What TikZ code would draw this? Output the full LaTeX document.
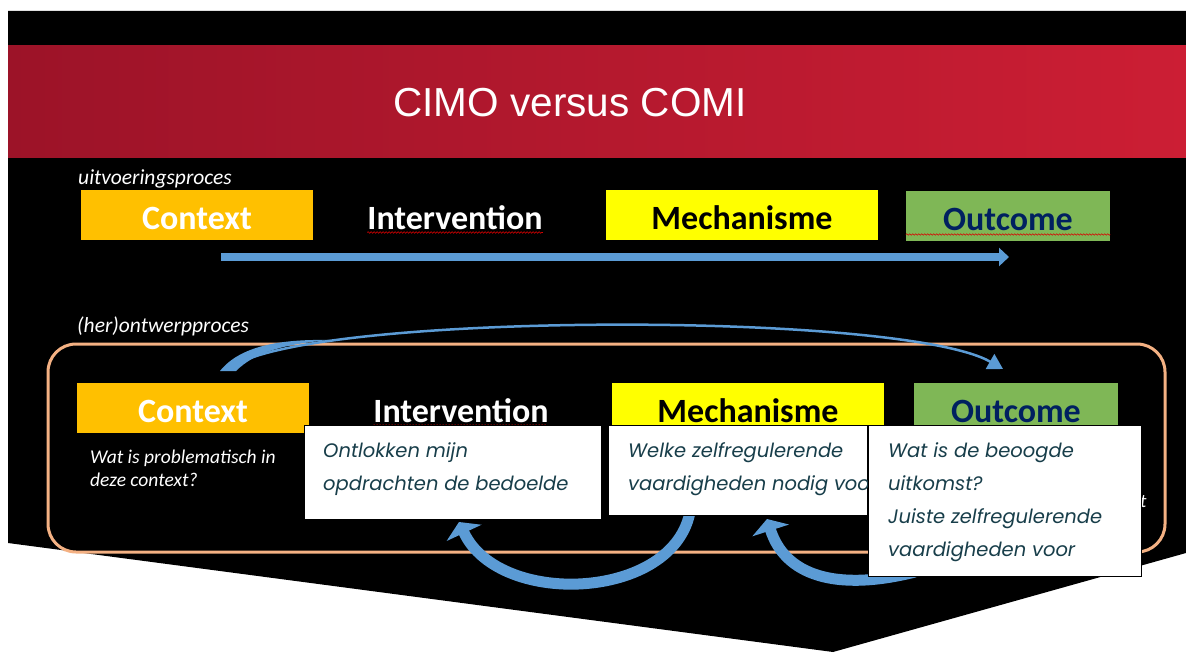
\documentclass[tikz,border=0pt]{standalone}
\usepackage{fontspec}
\setmainfont{Carlito}
\newfontfamily\titlefont{Liberation Sans}
\newfontfamily\notefont{Poppins}
\usetikzlibrary{arrows.meta,decorations.pathmorphing}
\definecolor{slidered}{RGB}{156,19,40}
\definecolor{slideredmid}{RGB}{166,22,42}
\definecolor{slideredlight}{RGB}{204,30,52}
\definecolor{ctxorange}{RGB}{255,192,0}
\definecolor{mechyellow}{RGB}{255,255,0}
\definecolor{outgreen}{RGB}{127,183,86}
\definecolor{outnavy}{RGB}{0,32,96}
\definecolor{arrowblue}{RGB}{91,155,213}
\definecolor{framepeach}{RGB}{244,177,131}
\definecolor{noteteal}{RGB}{24,62,74}
\begin{document}
\begin{tikzpicture}[x=1pt,y=-1pt,
  every node/.append style={inner sep=0pt},
  lbl/.style={font=\fontsize{34}{40}\selectfont\bfseries,text height=29pt,text depth=0pt},
  ctxbox/.style={lbl,fill=ctxorange,text=white,minimum width=232pt,minimum height=50pt},
  mechbox/.style={lbl,fill=mechyellow,text=black,minimum width=272pt,minimum height=50pt},
  outbox/.style={lbl,fill=outgreen,text=outnavy,minimum width=204pt,minimum height=50pt},
  steplbl/.style={font=\fontsize{21.5}{26}\selectfont\itshape,text=white,anchor=base west},
  notebox/.style={fill=white,draw=black,line width=0.8pt,anchor=north west},
  notetext/.style={font=\notefont\itshape\fontsize{19.5}{23}\selectfont,text=noteteal,anchor=base west},
  squiggle/.style={draw=red!85!black,line width=0.6pt,decorate,decoration={snake,segment length=3pt,amplitude=0.8pt}},
  bigarrow/.style={arrowblue,line width=11pt,-{Triangle[width=38pt,length=12pt]}}]
  \fill[white](0,0)rectangle(1186,668);
  \useasboundingbox(0,0)rectangle(1186,668);
  % slide
  \fill[black](8,11)--(1186,11)--(1186,553)--(833,652)--(8,543)--cycle;
  \shade[left color=slidered,middle color=slideredmid,right color=slideredlight](8,46)rectangle(1186,158);
  \node[font=\titlefont\fontsize{40.5}{48}\selectfont,text=white,anchor=base](title)at(570,117){CIMO versus COMI};
  % uitvoeringsproces
  \node[steplbl](runlbl)at(78,185){uitvoeringsproces};
  \node[ctxbox](ctx1)at(197,215){Context};
  \node[lbl,text=white](int1)at(455,215){Intervention};
  \node[mechbox](mech1)at(742,215){Mechanisme};
  \node[outbox](out1)at(1008,216){Outcome};
  \draw[squiggle]([yshift=-3pt]int1.base west)--([yshift=-3pt]int1.base east);
  \draw[squiggle]([yshift=-4pt]out1.base west)--([yshift=-4pt]out1.base east);
  \coordinate(runstart)at(221,257);
  \coordinate(runend)at(1009,257);
  \draw[arrowblue,line width=8pt,-{Triangle[width=18pt,length=10pt]}](runstart)--(runend);
  % (her)ontwerpproces
  \node[steplbl](designlbl)at(77,333){(her)ontwerpproces};
  \draw[framepeach,line width=3pt,rounded corners=28pt](48,344)rectangle(1165,552);
  \node[ctxbox](ctx2)at(193,408){Context};
  \node[lbl,text=white](int2)at(461,408){Intervention};
  \node[mechbox](mech2)at(748,408){Mechanisme};
  \node[outbox](out2)at(1016,408){Outcome};
  \draw[squiggle]([yshift=-3pt]int2.base west)--([yshift=-3pt]int2.base east);
  \node[font=\fontsize{19.5}{23}\selectfont\itshape,text=white,anchor=base west](ctxq1)at(90,463){Wat is problematisch in};
  \node[font=\fontsize{19.5}{23}\selectfont\itshape,text=white,anchor=base west](ctxq2)at(90,486){deze context?};
  \coordinate(designstart)at(228,370);
  \coordinate(designend)at(1003,369);
  \fill[arrowblue](220,371)--(236,371)..controls(255,352)and(285,344)..(330,340)..controls(280,339)and(240,346)..cycle;
  \draw[arrowblue,line width=2.5pt,-{Triangle[width=17pt,length=15pt]}](designstart)..controls(290,312)and(900,310)..(designend);
  % terugkoppeling
  \coordinate(mechback)at(691,505);
  \coordinate(intback)at(459,522);
  \coordinate(outback)at(915,572);
  \coordinate(mechin)at(767,519);
  \draw[bigarrow](mechback)..controls(682,600)and(500,610)..(intback);
  \draw[bigarrow](outback)..controls(835,592)and(785,575)..(mechin);
  % vragen
  \node[notebox,minimum width=297pt,minimum height=94pt](q1)at(304,425){};
  \node[notetext](q1a)at(323,457){Ontlokken mijn};
  \node[notetext](q1b)at(323,490){opdrachten de bedoelde};
  \node[notebox,minimum width=259pt,minimum height=90pt](q2)at(608,425){};
  \node[notetext](q2a)at(628,457){Welke zelfregulerende};
  \node[notetext](q2b)at(628,490){vaardigheden nodig voor};
  \node[font=\fontsize{19}{23}\selectfont\itshape,text=white,anchor=base west](hiddent)at(1140,507){t};
  \node[notebox,minimum width=273pt,minimum height=151pt](q3)at(868,425){};
  \node[notetext](q3a)at(888,457){Wat is de beoogde};
  \node[notetext](q3b)at(888,490){uitkomst?};
  \node[notetext](q3c)at(888,523){Juiste zelfregulerende};
  \node[notetext](q3d)at(888,556){vaardigheden voor};
\end{tikzpicture}
\end{document}
